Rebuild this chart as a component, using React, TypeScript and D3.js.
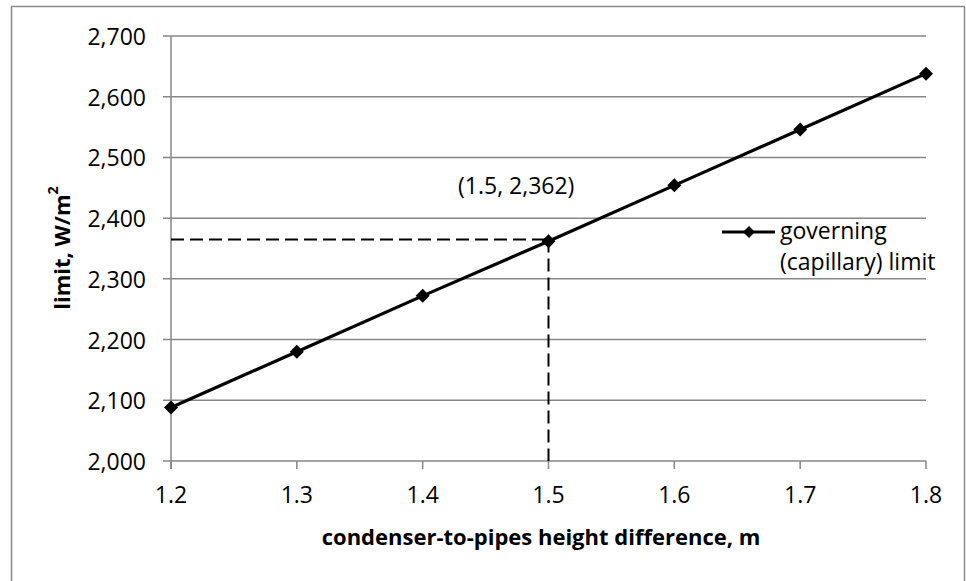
import React from "react";
import * as d3 from "d3";

const heights = [1.2, 1.3, 1.4, 1.5, 1.6, 1.7, 1.8];
const limits = [2088, 2180, 2272, 2362, 2454, 2546, 2638];
const xTicks = [1.2, 1.3, 1.4, 1.5, 1.6, 1.7, 1.8];
const yTicks = [2000, 2100, 2200, 2300, 2400, 2500, 2600, 2700];
const guidePoint = { x: 1.5, y: 2365 };
const annotationText = "(1.5, 2,362)";
const legendLines = ["governing", "(capillary) limit"];
const xTitle = "condenser-to-pipes height difference, m";
const yTitleMain = "limit, W/m";
const yTitleSup = "2";

const W = 966;
const H = 581;
const FONT = "'Open Sans', 'Noto Sans', sans-serif";
const FS = 23;
const FSB = 22;
const GRID = "#878787";

export default function App() {
  const x = d3.scaleLinear().domain([1.2, 1.8]).range([171, 926]);
  const y = d3.scaleLinear().domain([2000, 2700]).range([461, 36]);
  const fmt = d3.format(",");
  const pts = heights.map((h, i) => [h, limits[i]] as [number, number]);
  const line = d3
    .line<[number, number]>()
    .x((d) => x(d[0]))
    .y((d) => y(d[1]));
  const diamond = (cx: number, cy: number, r: number) =>
    `M${cx},${cy - r}L${cx + r},${cy}L${cx},${cy + r}L${cx - r},${cy}Z`;

  return (
    <svg
      width={W}
      height={H}
      style={{ position: "absolute", left: 0, top: 0, background: "#fff" }}
      fontFamily={FONT}
    >
      <rect x={0} y={0} width={W} height={H} fill="#fff" />
      <rect
        x={11.5}
        y={6.5}
        width={953}
        height={620}
        fill="none"
        stroke="#8a8a8a"
        strokeWidth={1.5}
      />
      {yTicks.map((t) => (
        <line
          key={"g" + t}
          x1={163}
          x2={x(1.8)}
          y1={y(t)}
          y2={y(t)}
          stroke={GRID}
          strokeWidth={1.5}
        />
      ))}
      <line x1={x(1.2)} x2={x(1.2)} y1={y(2700)} y2={y(2000) + 8} stroke={GRID} strokeWidth={1.5} />
      {xTicks.map((t) => (
        <line
          key={"xt" + t}
          x1={x(t)}
          x2={x(t)}
          y1={y(2000)}
          y2={y(2000) + 8}
          stroke={GRID}
          strokeWidth={1.5}
        />
      ))}
      {yTicks.map((t) => (
        <text
          key={"yl" + t}
          x={146}
          y={y(t)}
          textAnchor="end"
          dominantBaseline="central"
          fontSize={FS}
          fill="#000"
        >
          {fmt(t)}
        </text>
      ))}
      {xTicks.map((t) => (
        <text
          key={"xl" + t}
          x={x(t)}
          y={503}
          textAnchor="middle"
          fontSize={FS}
          fill="#000"
        >
          {t.toFixed(1)}
        </text>
      ))}
      <line
        x1={x(1.2)}
        x2={x(guidePoint.x)}
        y1={y(guidePoint.y)}
        y2={y(guidePoint.y)}
        stroke="#000"
        strokeWidth={2}
        strokeDasharray="13,6"
      />
      <line
        x1={x(guidePoint.x)}
        x2={x(guidePoint.x)}
        y1={y(guidePoint.y)}
        y2={y(2000)}
        stroke="#000"
        strokeWidth={2}
        strokeDasharray="13,6"
      />
      <path d={line(pts) || ""} fill="none" stroke="#000" strokeWidth={3.2} />
      {pts.map((p, i) => (
        <path key={"m" + i} d={diamond(x(p[0]), y(p[1]), 7)} fill="#000" />
      ))}
      <text x={458} y={194} fontSize={FS} fill="#000">
        {annotationText}
      </text>
      <line x1={722} x2={775} y1={232} y2={232} stroke="#000" strokeWidth={3.2} />
      <path d={diamond(749, 232, 6)} fill="#000" />
      {legendLines.map((l, i) => (
        <text key={"lg" + i} x={780} y={239 + i * 31} fontSize={FS} fill="#000">
          {l}
        </text>
      ))}
      <text
        x={541}
        y={545}
        textAnchor="middle"
        fontSize={FSB}
        fontWeight="bold"
        fill="#000"
      >
        {xTitle}
      </text>
      <text
        transform={`translate(61,248) rotate(-90)`}
        textAnchor="middle"
        dominantBaseline="central"
        fontSize={FSB}
        fontWeight="bold"
        fill="#000"
      >
        {yTitleMain}
        <tspan fontSize={FSB * 0.65} dy={-9}>
          {yTitleSup}
        </tspan>
      </text>
    </svg>
  );
}
